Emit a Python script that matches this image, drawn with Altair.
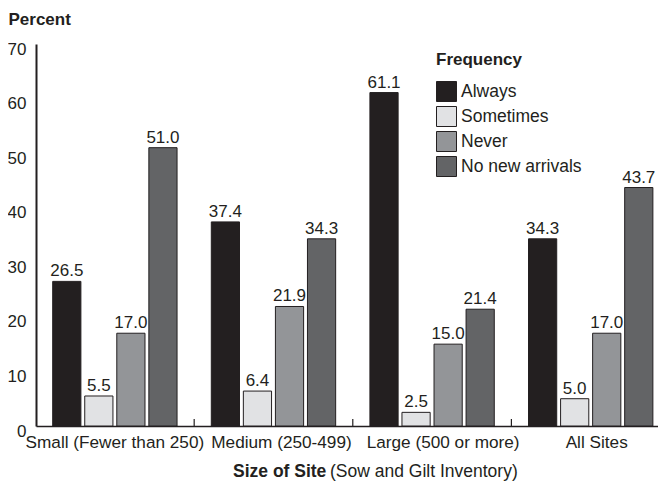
import altair as alt
import pandas as pd

groups = ["Small (Fewer than 250)", "Medium (250-499)", "Large (500 or more)", "All Sites"]
series = ["Always", "Sometimes", "Never", "No new arrivals"]
always = [26.5, 37.4, 61.1, 34.3]
sometimes = [5.5, 6.4, 2.5, 5.0]
never = [17.0, 21.9, 15.0, 17.0]
no_new = [51.0, 34.3, 21.4, 43.7]
colors = ["#231f20", "#e1e2e4", "#939598", "#636466"]
y_ticks = [0, 10, 20, 30, 40, 50, 60, 70]

rows = []
for s, vals in zip(series, [always, sometimes, never, no_new]):
    for g, v in zip(groups, vals):
        rows.append({"group": g, "freq": s, "value": v, "label": f"{v:.1f}"})
df = pd.DataFrame(rows)
sep_df = pd.DataFrame({"group": groups[1:]})

W, H = 630, 382
FONT = "Liberation Sans"
INK = "#231f20"
P_IN, P_OUT, ALIGN = 0.216, 0.094, 0.56
step = W / (len(groups) - P_IN + 2 * P_OUT)
half_gap = P_IN * step / 2

# horizontal nudges of the category labels (layout only)
label_nudge = [0, 8, 11, 6]
nudge_expr = " : ".join(
    f"datum.value == '{g}' ? {n}" for g, n in zip(groups, label_nudge)) + " : 0"

xscale = alt.Scale(domain=groups, paddingInner=P_IN, paddingOuter=P_OUT, align=ALIGN)
xaxis = alt.Axis(title=None, labelAngle=0, labelFontSize=17.2, labelColor=INK,
                 labelPadding=7, ticks=False, domainColor=INK, domainWidth=1.5,
                 labelLimit=300, labelOverlap=False,
                 labelOffset=alt.ExprRef(nudge_expr))
x = alt.X("group:N", sort=groups, scale=xscale, axis=xaxis)
xo = alt.XOffset("freq:N", sort=series, scale=alt.Scale(domain=series, paddingInner=0.12))
y = alt.Y("value:Q", scale=alt.Scale(domain=[0, 70], nice=False),
          axis=alt.Axis(values=y_ticks, ticks=False, grid=False, title="Percent",
                        titleAngle=0, titleAlign="left", titleX=-28, titleY=-20,
                        titleBaseline="alphabetic", titleFontSize=17,
                        titleFontWeight="bold", titleColor=INK,
                        labelFontSize=17, labelColor=INK, labelPadding=10,
                        labelOffset=5, domainColor=INK, domainWidth=2))
color = alt.Color("freq:N", sort=series,
                  scale=alt.Scale(domain=series, range=colors),
                  legend=alt.Legend(title="Frequency", orient="none", legendX=400,
                                    legendY=8, symbolType="square", symbolSize=400,
                                    symbolStrokeColor=INK, symbolStrokeWidth=1,
                                    symbolOpacity=1,
                                    labelFontSize=17.5, labelColor=INK, labelOffset=4,
                                    titleFontSize=17, titleFontWeight="bold",
                                    titleColor=INK, titlePadding=12, rowPadding=0,
                                    padding=0))

base = alt.Chart(df)
bars = base.mark_bar(stroke=INK, strokeWidth=1).encode(x=x, xOffset=xo, y=y, color=color)
labels = base.mark_text(dy=-5, baseline="alphabetic", fontSize=17, color=INK).encode(
    x=x, xOffset=xo, y=y, text="label:N")
seps = alt.Chart(sep_df).mark_rule(color=INK, strokeWidth=1.2, xOffset=-half_gap).encode(
    x=alt.X("group:N", sort=groups, scale=xscale, axis=xaxis, bandPosition=0),
    y=alt.datum(0), y2=alt.value(H - 7))

t1 = alt.Chart(pd.DataFrame({"t": ["Size of Site"]})).mark_text(
    align="left", baseline="alphabetic", fontSize=17.5, fontWeight="bold", color=INK).encode(
    x=alt.value(197), y=alt.value(433), text="t:N")
t2 = alt.Chart(pd.DataFrame({"t": ["(Sow and Gilt Inventory)"]})).mark_text(
    align="left", baseline="alphabetic", fontSize=17.5, color=INK).encode(
    x=alt.value(294), y=alt.value(433), text="t:N")

chart = alt.layer(bars, labels, seps, t1, t2).properties(
    width=W, height=H,
    autosize=alt.AutoSizeParams(type="none"),
    padding={"left": 28, "top": 36, "right": -8, "bottom": 55},
).configure(font=FONT).configure_view(stroke=None)

chart.save("out.html", embed_options={"renderer": "svg", "actions": False})
